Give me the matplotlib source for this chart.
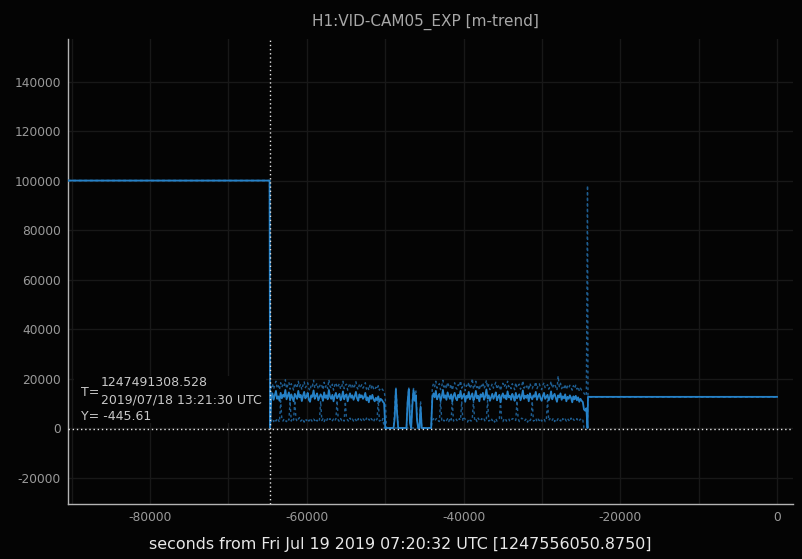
import numpy as np
import matplotlib
matplotlib.use("Agg")
import matplotlib.pyplot as plt
from matplotlib.patches import Rectangle

plt.rcParams['font.family'] = ['DejaVu Sans']
plt.rcParams['axes.unicode_minus'] = False

# ---------------- data ----------------
TITLE = "H1:VID-CAM05_EXP [m-trend]"
XLABEL = "seconds from Fri Jul 19 2019 07:20:32 UTC [1247556050.8750]"
GPS_REF = 1247556050.875
CURSOR_GPS = 1247491308.528
CURSOR_UTC = "2019/07/18 13:21:30 UTC"
CURSOR_Y = -445.61

# segment A: constant exposure before switch
T_START = -90500
T_SWITCH = -64742
A_VAL = 100000

# segment B: minute-trend samples (every 150 s shown)
B_T0 = -64680
B_STEP = 150
mean_B = [
    0, 12400, 14000, 11400, 13200, 15000, 11800, 12800, 11000, 14200,
    12000, 13400, 12600, 15400, 11600, 13000, 14400, 11200, 13600, 12200,
    10800, 13800, 12800, 11800, 15000, 12400, 13400, 10900, 13000, 14600,
    12000, 12800, 14200, 11400, 10600, 13200, 12600, 15200, 11800, 13000,
    14000, 11200, 12400, 13600, 12800, 11000, 14400, 12200, 13200, 11600,
    15400, 12600, 11800, 13400, 10800, 13000, 14200, 12000, 12800, 13800,
    11200, 12400, 14800, 11600, 13000, 13600, 10800, 12600, 14000, 12200,
    13200, 11400, 12800, 14600, 12000, 11000, 13600, 12400, 13200, 11800,
    12600, 14200, 11200, 12400, 10400, 13000, 11800, 13400, 11600, 10800,
    12200, 11200, 12800, 10600, 11800, 11400, 10600, 10000, 0, 0,
    0, 0, 0, 0, 0, 0, 4000, 15700, 6000, 0,
    0, 0, 0, 0, 0, 0, 0, 10600, 15700, 2000,
    0, 9000, 15300, 11000, 13300, 3000, 0, 0, 8600, 0,
    0, 0, 0, 0, 0, 0, 0, 0, 12200, 14000,
    12400, 15000, 11600, 12800, 13800, 11000, 12600, 15400, 12200, 13200,
    11400, 14400, 12800, 11800, 13600, 10800, 13000, 14200, 12000, 11200,
    13400, 12400, 15000, 11800, 12800, 13800, 10600, 13000, 12200, 14600,
    11600, 12800, 14000, 11200, 12400, 15000, 12000, 13000, 10800, 13600,
    12600, 14200, 11400, 12800, 15600, 12000, 13200, 11000, 12400, 13800,
    11800, 13000, 14400, 11200, 12600, 13400, 10400, 12800, 14000, 12200,
    13200, 11600, 14800, 12400, 13000, 11400, 13800, 12600, 11000, 14200,
    12000, 12800, 13600, 11200, 12600, 15200, 11800, 13000, 12200, 13400,
    10800, 14000, 12400, 11600, 13200, 12600, 14600, 11400, 12800, 13800,
    12000, 11000, 13000, 14200, 11800, 12600, 13400, 11200, 12400, 14800,
    11600, 13000, 13800, 12200, 10600, 13200, 12400, 14000, 11400, 12800,
    12000, 13600, 10800, 12600, 11800, 13200, 12200, 10400, 12800, 11600,
    13000, 11200, 12400, 10600, 11800, 11000, 10500, 7500, 7000, 8000,
    0,
]
max_B = [
    0, 16300, 17900, 15700, 17300, 18900, 16100, 17100, 15500, 18300,
    16500, 17700, 16900, 19500, 15900, 17300, 18500, 15700, 17900, 16700,
    15300, 18100, 17100, 16100, 18900, 16700, 17700, 15500, 17300, 18700,
    16300, 17100, 18300, 15900, 15100, 17500, 16900, 19300, 16100, 17300,
    18100, 15700, 16700, 17900, 17100, 15500, 18500, 16500, 17500, 15900,
    19500, 16900, 16100, 17700, 15300, 17300, 18300, 16300, 17100, 17900,
    15700, 16700, 18900, 15900, 17300, 17700, 15300, 16900, 18100, 16500,
    17500, 15900, 17100, 18700, 16300, 15500, 17700, 16700, 17500, 16100,
    16900, 18300, 15700, 16700, 15300, 17300, 16100, 17500, 15900, 15300,
    16500, 15700, 17100, 15300, 16300, 15900, 15300, 15000, 12000, 0,
    0, 0, 0, 0, 0, 0, 8000, 16500, 9000, 0,
    0, 0, 0, 0, 0, 0, 0, 11500, 16200, 5000,
    0, 11000, 16000, 13000, 15500, 5000, 0, 0, 11000, 0,
    0, 0, 0, 0, 0, 0, 0, 0, 16500, 17900,
    16700, 18900, 16100, 17100, 17900, 15500, 16900, 19300, 16500, 17500,
    15900, 18500, 17100, 16100, 17700, 15300, 17300, 18300, 16300, 15700,
    17500, 16700, 19100, 16100, 17100, 17900, 15100, 17300, 16500, 18500,
    15900, 17100, 20000, 15700, 16700, 18900, 16300, 17300, 15300, 17700,
    16900, 18300, 15900, 17100, 19300, 16300, 17500, 15500, 16700, 17900,
    16100, 17300, 18500, 15700, 16900, 17500, 15100, 17100, 18100, 16500,
    17500, 16100, 18900, 16700, 17300, 15900, 17900, 16900, 15500, 18300,
    16300, 17100, 17700, 15700, 16900, 19100, 16100, 17300, 16500, 17500,
    15300, 18100, 16700, 15900, 17300, 16900, 18700, 15900, 17100, 17900,
    16300, 15500, 17300, 18300, 16100, 16900, 17500, 15700, 16700, 18900,
    16100, 17100, 17900, 16500, 15300, 21000, 16700, 18100, 15900, 17100,
    16300, 17700, 15500, 16900, 16100, 17300, 16500, 15300, 17100, 15900,
    17300, 15700, 16700, 15000, 16100, 15300, 15000, 14000, 13500, 13000,
    98000,
]
min_B = [
    0, 3000, 3800, 2600, 3600, 2800, 4000, 3200, 2400, 11000,
    3600, 2800, 3800, 3000, 2600, 3800, 3200, 10800, 2800, 4000,
    3200, 11200, 3800, 2600, 3600, 4200, 2800, 3200, 3800, 2400,
    3600, 3000, 3800, 2800, 4000, 3200, 2600, 3600, 3000, 3800,
    2800, 3800, 3200, 10900, 3000, 3800, 2600, 3600, 2800, 4000,
    3200, 3800, 2600, 3000, 3600, 2800, 3800, 11100, 3200, 2600,
    3800, 3000, 3600, 2800, 10700, 3800, 3200, 2600, 4000, 3000,
    3600, 2800, 3800, 3200, 2400, 3800, 3000, 3600, 2800, 3800,
    3200, 2600, 4000, 3000, 3600, 2800, 3800, 3200, 2400, 3800,
    3000, 3600, 11000, 2800, 3200, 2600, 3800, 0, 0, 0,
    0, 0, 0, 0, 0, 0, 0, 0, 0, 0,
    0, 0, 0, 0, 0, 0, 0, 0, 0, 0,
    0, 0, 0, 0, 0, 0, 0, 0, 0, 0,
    0, 0, 0, 0, 0, 0, 0, 0, 3000, 3800,
    2800, 3600, 4000, 3000, 2600, 10900, 3200, 3800, 2800, 3600,
    3000, 3800, 2600, 4000, 3200, 11100, 2800, 3600, 3800, 3000,
    2600, 3800, 3200, 10800, 2800, 4000, 3600, 3000, 2400, 3800,
    3200, 2800, 3800, 11000, 3000, 3600, 2600, 4000, 3200, 2800,
    3800, 3000, 3600, 2600, 3800, 11200, 2800, 3200, 4000, 3000,
    3600, 2400, 3800, 2800, 3200, 3800, 10900, 3000, 2600, 3600,
    4000, 2800, 3200, 3800, 2600, 3000, 3800, 3600, 2800, 3200,
    11000, 3800, 2600, 3000, 4000, 3600, 2800, 3200, 3800, 2400,
    3600, 3000, 3800, 10800, 2800, 3200, 4000, 2600, 3600, 3000,
    3800, 2800, 3200, 3800, 2600, 3600, 11100, 3000, 3800, 2800,
    3200, 4000, 2600, 3600, 3000, 3800, 2800, 3200, 2400, 3800,
    3000, 3600, 2800, 3800, 3200, 2600, 4000, 3000, 3600, 2800,
    3200, 3800, 2600, 3000, 3600, 2800, 3200, 0, 0, 0,
    0,
]

# segment C: constant exposure after switch back
C_T0 = -24120
T_END = 0
C_VAL = 12600

XTICKS = [-80000, -60000, -40000, -20000, 0]
YTICKS = [-20000, 0, 20000, 40000, 60000, 80000, 100000, 120000, 140000]

# ---------------- build series ----------------
n = min(len(mean_B), len(max_B), len(min_B))
tB = B_T0 + B_STEP * np.arange(n)
t = np.concatenate([[T_START, T_SWITCH], tB, [C_T0, T_END]])
def full(seg):
    return np.concatenate([[A_VAL, A_VAL], np.asarray(seg[:n], float), [C_VAL, C_VAL]])
y_mean = full(mean_B)
y_max = full(max_B)
y_min = full(min_B)

# ---------------- figure ----------------
W, H = 803, 559
BG = '#040404'
fig = plt.figure(figsize=(W / 100, H / 100), dpi=100, facecolor=BG)
ax = fig.add_axes([67.7 / W, 1 - 504 / H, (793.5 - 67.7) / W, (504 - 39) / H])
ax.set_facecolor(BG)

dash_col = '#1e5d90'
ax.plot(t, y_max, color=dash_col, lw=1.0, ls=(0, (2, 2)), zorder=3)
ax.plot(t, y_min, color=dash_col, lw=1.0, ls=(0, (2, 2)), zorder=3)
ax.plot(t, y_mean, color='#2682c8', lw=1.3, zorder=4)

ax.set_xlim(-90500, 2100)
ax.set_ylim(-30700, 157200)

ax.set_xticks(XTICKS)
ax.set_xticks(np.arange(-90000, 1, 10000), minor=True)
ax.set_yticks(YTICKS)
ax.set_xticklabels([str(v) for v in XTICKS])
ax.set_yticklabels([str(v) for v in YTICKS])
ax.tick_params(axis='both', which='both', length=0, colors='#9a9a9a', labelsize=8.8)
ax.tick_params(axis='x', pad=5)
ax.tick_params(axis='y', pad=5)
ax.grid(True, axis='x', which='both', color='#181818', lw=1, zorder=0)
ax.grid(True, axis='y', which='major', color='#181818', lw=1, zorder=0)
ax.set_axisbelow(True)

for s in ['top', 'right']:
    ax.spines[s].set_visible(False)
for s in ['left', 'bottom']:
    ax.spines[s].set_color('#b4b4b4')
    ax.spines[s].set_linewidth(1.0)

# cursor lines
T_CURSOR = CURSOR_GPS - GPS_REF
ax.axvline(T_CURSOR, color='#e6e6e6', lw=1.0, ls=(0, (1, 2)), zorder=5)
ax.axhline(CURSOR_Y, color='#e6e6e6', lw=1.0, ls=(0, (1, 2)), zorder=5)

# cursor label box
fig.patches.append(Rectangle((74 / W, 1 - 423 / H), (266 - 74) / W, (423 - 376) / H,
                             transform=fig.transFigure, facecolor=BG,
                             edgecolor='none', zorder=1))
tc = '#c8c8c8'
fs = 9
fig.text(81 / W, 1 - 392 / H, "T=", color=tc, fontsize=fs, va='center', ha='left', zorder=3)
fig.text(101 / W, 1 - 382.5 / H, f"{CURSOR_GPS:.3f}", color=tc, fontsize=fs, va='center', ha='left', zorder=3)
fig.text(101 / W, 1 - 400 / H, CURSOR_UTC, color=tc, fontsize=fs, va='center', ha='left', zorder=3)
fig.text(81 / W, 1 - 416.5 / H, f"Y= {CURSOR_Y:.2f}", color=tc, fontsize=fs, va='center', ha='left', zorder=3)

fig.text(425 / W, 1 - 22 / H, TITLE, color='#a8a8a8', fontsize=11, ha='center', va='center')
fig.text(400 / W, 1 - 544 / H, XLABEL, color='#e8e8e8', fontsize=11.4, ha='center', va='center')

fig.savefig('out.png', dpi=100, facecolor=BG)
